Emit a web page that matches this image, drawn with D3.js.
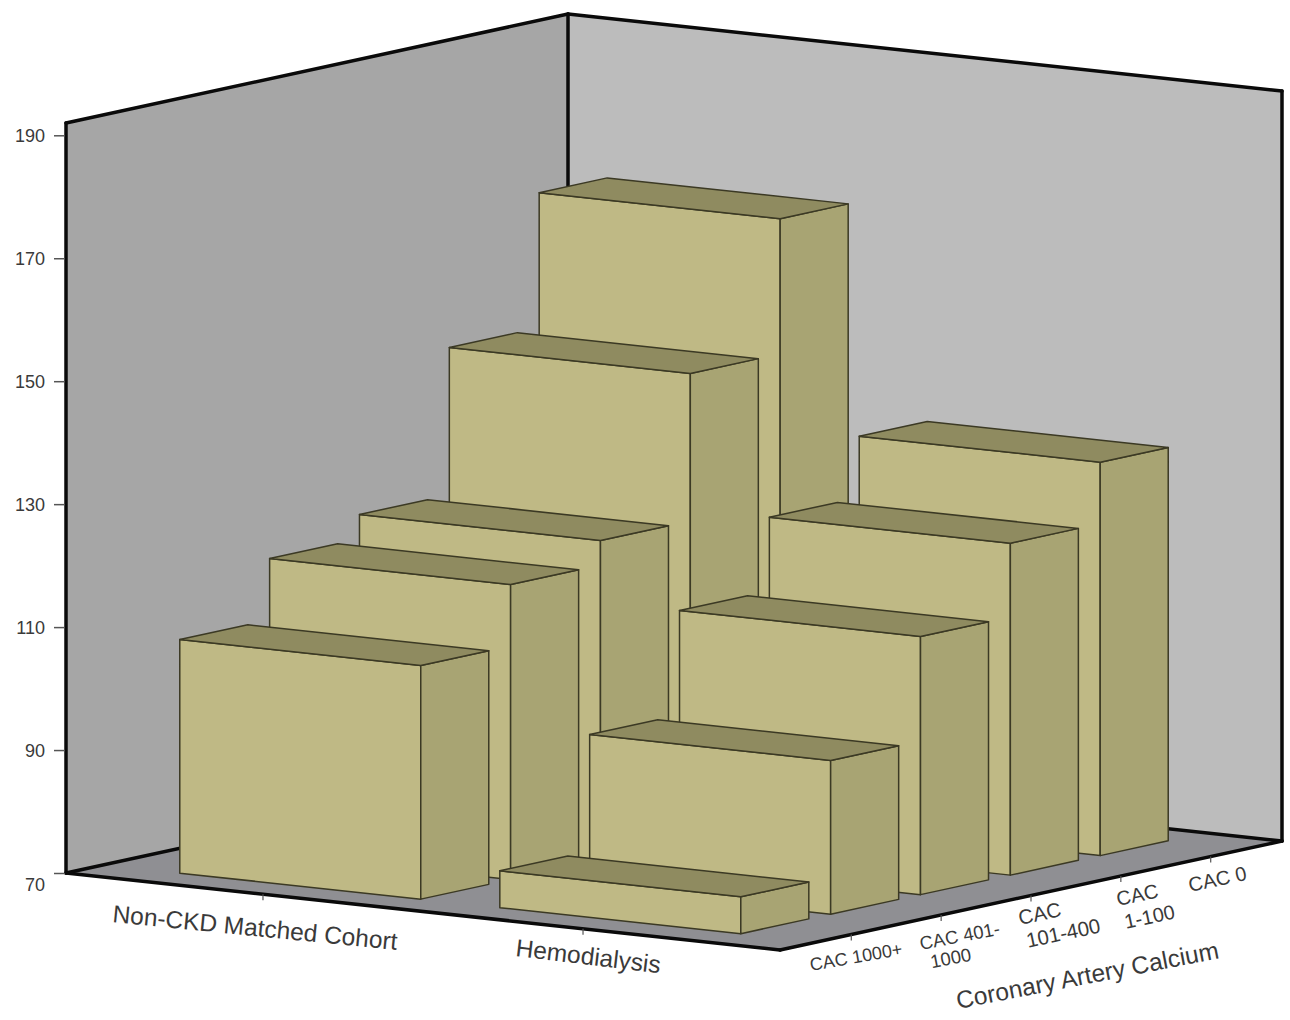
<!DOCTYPE html>
<html>
<head>
<meta charset="utf-8">
<style>
  html, body { margin: 0; padding: 0; background: #fff; }
  text { font-family: "Liberation Sans", Arial, sans-serif; fill: #3a3a3a; }
</style>
<script src="https://cdn.jsdelivr.net/npm/d3@7/dist/d3.min.js"></script>
</head>
<body>
<svg id="chart" width="1290" height="1020"></svg>
<script>
// Mean values per cohort and coronary artery calcium category
const cohorts = ["Non-CKD Matched Cohort", "Hemodialysis"];
const calciumCategories = ["CAC 1000+", "CAC 401-1000", "CAC 101-400", "CAC 1-100", "CAC 0"];
const nonCkdValues = [108, 118, 122, 146, 168];
const hemodialysisValues = [76, 95, 112, 124, 134];
const valueTicks = [70, 90, 110, 130, 150, 170, 190];

const svg = d3.select("#chart");

// Oblique projection: cohort runs along the front-left edge, calcium runs along the depth edge
const origin = { x: 66, y: 873 };
const cohortEdge = { x: 714, y: 77 };
const depthEdge = { x: 502, y: -109 };

const valueScale = d3.scaleLinear().domain([70, 192]).range([873, 123]);
const cohortScale = d3.scaleBand().domain(cohorts).range([0, 1]).paddingInner(0.247).paddingOuter(0.239);
const depthScale = d3.scaleBand().domain(calciumCategories).range([0, 1]).paddingInner(0.243).paddingOuter(0.415);

function project(u, v, value) {
  return [
    origin.x + u * cohortEdge.x + v * depthEdge.x,
    origin.y + u * cohortEdge.y + v * depthEdge.y + (valueScale(value) - valueScale(70))
  ];
}
const facePath = pts => d3.line()(pts) + "Z";

const wallTop = valueScale.domain()[1];

// Floor and the two back walls
const room = svg.append("g");
room.append("path")
  .attr("d", facePath([project(0, 0, 70), project(1, 0, 70), project(1, 1, 70), project(0, 1, 70)]))
  .attr("fill", "#8f8f93");
room.append("path")
  .attr("d", facePath([project(0, 0, 70), project(0, 1, 70), project(0, 1, wallTop), project(0, 0, wallTop)]))
  .attr("fill", "#a6a6a6");
room.append("path")
  .attr("d", facePath([project(0, 1, 70), project(1, 1, 70), project(1, 1, wallTop), project(0, 1, wallTop)]))
  .attr("fill", "#bcbcbc");

const roomEdges = [
  [project(0, 0, 70), project(0, 0, wallTop)],
  [project(0, 0, wallTop), project(0, 1, wallTop)],
  [project(0, 1, wallTop), project(1, 1, wallTop)],
  [project(1, 1, wallTop), project(1, 1, 70)],
  [project(0, 1, 70), project(0, 1, wallTop)],
  [project(0, 0, 70), project(0, 1, 70)],
  [project(0, 1, 70), project(1, 1, 70)],
  [project(0, 0, 70), project(1, 0, 70)],
  [project(1, 0, 70), project(1, 1, 70)]
];
room.selectAll("path.edge").data(roomEdges).join("path")
  .attr("class", "edge")
  .attr("d", d => d3.line()(d))
  .attr("fill", "none")
  .attr("stroke", "#0a0a0a")
  .attr("stroke-width", 3.5)
  .attr("stroke-linecap", "round");

// Bars, painted from the far corner towards the viewer
const bars = [];
[nonCkdValues, hemodialysisValues].forEach((values, c) => {
  values.forEach((value, k) => bars.push({ cohort: cohorts[c], category: calciumCategories[k], value }));
});
bars.sort((a, b) =>
  d3.ascending(cohorts.indexOf(a.cohort), cohorts.indexOf(b.cohort)) ||
  d3.descending(calciumCategories.indexOf(a.category), calciumCategories.indexOf(b.category)));

const barGroups = svg.append("g").selectAll("g").data(bars).join("g")
  .attr("stroke", "#3b3924")
  .attr("stroke-width", 1.5)
  .attr("stroke-linejoin", "round");

const spans = d => {
  const u0 = cohortScale(d.cohort), u1 = u0 + cohortScale.bandwidth();
  const v0 = depthScale(d.category), v1 = v0 + depthScale.bandwidth();
  return { u0, u1, v0, v1 };
};
barGroups.append("path").attr("fill", "#bfb985").attr("d", d => {
  const { u0, u1, v0 } = spans(d);
  return facePath([project(u0, v0, 70), project(u1, v0, 70), project(u1, v0, d.value), project(u0, v0, d.value)]);
});
barGroups.append("path").attr("fill", "#a8a473").attr("d", d => {
  const { u1, v0, v1 } = spans(d);
  return facePath([project(u1, v0, 70), project(u1, v1, 70), project(u1, v1, d.value), project(u1, v0, d.value)]);
});
barGroups.append("path").attr("fill", "#8f8b60").attr("d", d => {
  const { u0, u1, v0, v1 } = spans(d);
  return facePath([project(u0, v0, d.value), project(u1, v0, d.value), project(u1, v1, d.value), project(u0, v1, d.value)]);
});

// Value axis on the front-left corner
const valueAxis = svg.append("g")
  .attr("transform", `translate(${origin.x - 1},0)`)
  .call(d3.axisLeft(valueScale).tickValues(valueTicks).tickSize(11).tickPadding(9).tickFormat(d3.format("d")));
valueAxis.select(".domain").remove();
valueAxis.selectAll(".tick line").attr("stroke", "#555").attr("stroke-width", 1.5);
valueAxis.selectAll(".tick text")
  .style("font-size", "18px")
  .attr("dy", d => d === 70 ? "0.95em" : "0.35em");

// Short ticks along the two floor edges
const floorTicks = [
  ...cohorts.map(c => project(cohortScale(c) + cohortScale.bandwidth() / 2, 0, 70)),
  ...calciumCategories.map(k => project(1, depthScale(k) + depthScale.bandwidth() / 2, 70))
];
svg.append("g").selectAll("line").data(floorTicks).join("line")
  .attr("x1", d => d[0]).attr("y1", d => d[1])
  .attr("x2", d => d[0]).attr("y2", d => d[1] + 6)
  .attr("stroke", "#555").attr("stroke-width", 1.2);

// Labels follow the floor edges
function slanted(lines, x, y, angle, size, lineHeight) {
  const t = svg.append("text")
    .attr("transform", `translate(${x},${y}) rotate(${angle})`)
    .style("font-size", size + "px");
  lines.forEach((line, i) => t.append("tspan")
    .attr("x", line.dx || 0)
    .attr("y", i * lineHeight)
    .text(line.text));
}
slanted([{ text: "Non-CKD Matched Cohort" }], 112, 922, 5.6, 24.5, 0);
slanted([{ text: "Hemodialysis" }], 515, 956, 6.8, 24.5, 0);
slanted([{ text: "CAC 1000+" }], 811, 971, -10, 18, 0);
slanted([{ text: "CAC 401-" }, { text: "1000", dx: 7 }], 921, 950, -11, 18.5, 20);
slanted([{ text: "CAC" }, { text: "101-400", dx: 3 }], 1020, 925, -12, 20.5, 24);
slanted([{ text: "CAC" }, { text: "1-100", dx: 3 }], 1118, 906, -12, 20, 24);
slanted([{ text: "CAC 0" }], 1190, 892, -12, 20, 0);
slanted([{ text: "Coronary Artery Calcium" }], 958, 1009, -11, 24.5, 0);
</script>
</body>
</html>
